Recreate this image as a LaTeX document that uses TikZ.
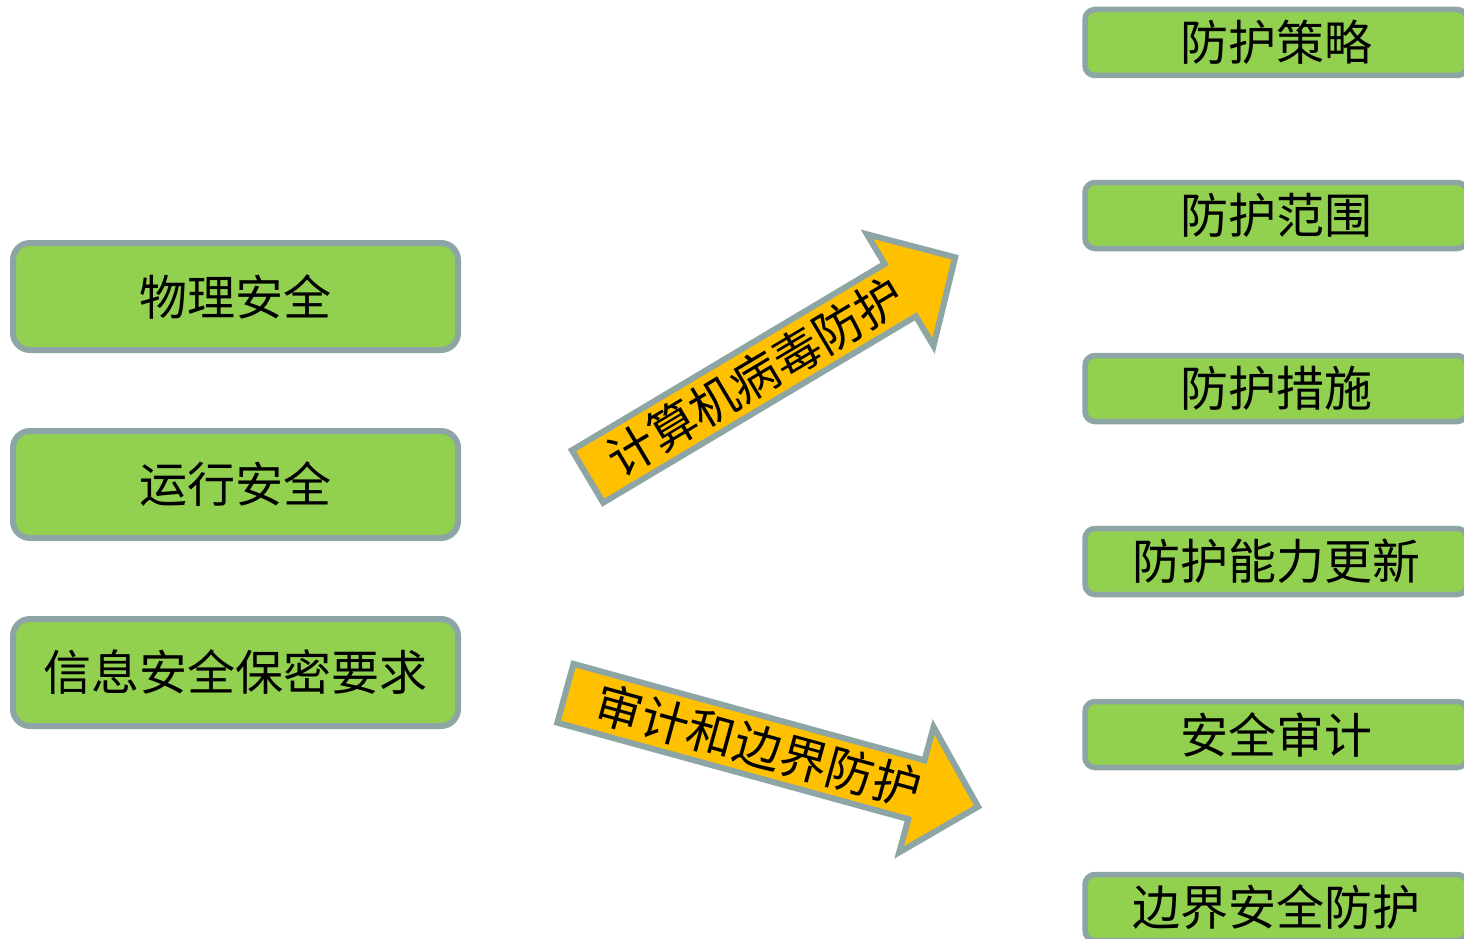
\documentclass[tikz,border=0pt]{standalone}
\usepackage{fontspec}
\newfontfamily\cjk{Noto Sans CJK SC}
\definecolor{boxgreen}{HTML}{92D050}
\definecolor{edgegray}{HTML}{8EA5A5}
\definecolor{arrowgold}{HTML}{FFC000}
\begin{document}
\begin{tikzpicture}[x=1pt,y=-1pt,
  cjktext/.style={font=\cjk\fontsize{48}{48}\selectfont, text=black},
  leftbox/.style={cjktext, draw=edgegray, fill=boxgreen, line width=6pt, rounded corners=17pt,
    minimum width=445pt, minimum height=107pt, inner sep=0pt},
  rightbox/.style={cjktext, draw=edgegray, fill=boxgreen, line width=5.5pt, rounded corners=10pt,
    minimum width=382pt, minimum height=66pt, inner sep=0pt},
  bigarrow/.style={draw=edgegray, fill=arrowgold, line width=6pt, line join=miter},
  arrowtext/.style={cjktext, inner sep=0pt}
]
\useasboundingbox[fill=white] (0,0) rectangle (1464,939);

% left boxes
\node[leftbox] (l1) at (235.5,296.5) {物理安全};
\node[leftbox] (l2) at (235.5,484.5) {运行安全};
\node[leftbox] (l3) at (235.5,672.5) {信息安全保密要求};

% right boxes
\node[rightbox] (r1) at (1276,42.5) {防护策略};
\node[rightbox] (r2) at (1276,215.5) {防护范围};
\node[rightbox] (r3) at (1276,388.5) {防护措施};
\node[rightbox] (r4) at (1276,561.5) {防护能力更新};
\node[rightbox] (r5) at (1276,734.5) {安全审计};
\node[rightbox] (r6) at (1276,907.5) {边界安全防护};

% arrow up
\begin{scope}[shift={(585,478)}, rotate=30.8]
  \draw[bigarrow] (3,-30.5) -- (367,-30.5) -- (367,-65) -- (431,0) -- (367,65) -- (367,30.5) -- (3,30.5) -- cycle;
  \node[arrowtext, rotate=30.8] (a1) at (198,0) {计算机病毒防护};
\end{scope}

% arrow down
\begin{scope}[shift={(562.5,692.5)}, rotate=-15.36]
  \draw[bigarrow] (3,-30.5) -- (367,-30.5) -- (367,-65) -- (431,0) -- (367,65) -- (367,30.5) -- (3,30.5) -- cycle;
  \node[arrowtext, rotate=-15.36] (a2) at (203,0) {审计和边界防护};
\end{scope}
\end{tikzpicture}
\end{document}
